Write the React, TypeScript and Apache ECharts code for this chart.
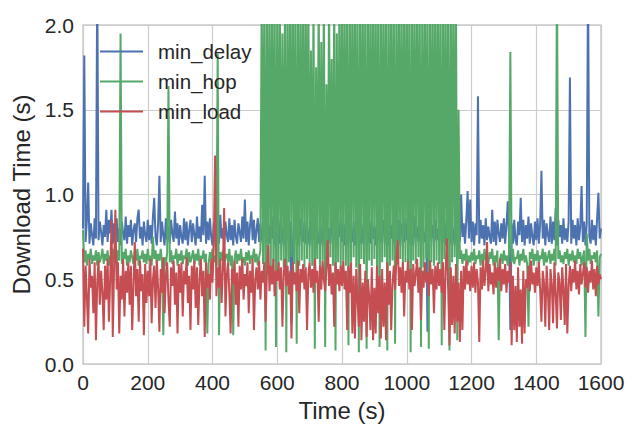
import React, { useEffect, useRef } from "react";
import * as echarts from "echarts";

// Time sampled every 4 s from 0 to 1600 (each row = 100 s)
const STEP = 4;

const minDelay = [
  .80, 1.82, .72, .85, 1.07, .71, .83, .76, .70, .86, .74, 2.30, .73, .84, .78, .70, .82, .75, .91, .72, .85, .77, .91, .71, .83,
  .74, .86, .72, .80, .70, .84, .77, .73, .87, .71, .82, .75, .85, .70, .79, .83, .72, .86, .91, .74, .81, .70, .84, .76, .72,
  .85, .73, .82, .71, .87, .98, .75, .70, .83, 1.11, .72, .84, .76, .70, .86, .73, .81, .71, .85, .77, .72, .90, .74, .83, .70,
  .82, .75, .71, .86, .73, .84, .70, .79, .85, .72, .83, .76, .70, .87, .74, .81, .72, .94, .76, 1.11, .71, .84, .73, .86, .75,
  .70, .83, .77, .72, .85, .71, .88, .74, .80, .70, .84, .76, .72, .86, .73, .82, .70, .85, .75, .71, .83, .78, .72, .87, .74,
  .97, .72, .84, .70, .82, .90, .73, .85, .71, .79, .86, .72, .83, .75, .70, .84, .77, .72, .85, .71, .82, .74, .87, .70, .80,
  .73, .85, .71, .83, .76, .70, .86, .72, .81, .74, .84, .24, .71, .85, .77, .72, .83, .70, .86, .75, .72, .84, .71, .82, .76,
  .70, .85, .73, .81, .72, .87, .75, .71, .84, .77, .70, .83, .74, .86, .72, .80, .71, .85, .76, .73, .84, .70, .82, .75, .86,
  .72, .83, .70, .85, .74, .71, .86, .77, .72, .84, .70, .82, .75, .87, .71, .83, .73, .70, .85, .76, .72, .84, .71, .86, .74,
  .81, .70, .84, .73, .88, .72, .79, .85, .71, .83, .75, .70, .86, .74, .82, .71, .84, .77, .72, .85, .70, .83, .76, .72, .86,
  .73, .84, .71, .82, .75, .70, .87, .74, .81, .72, .85, .70, .83, .76, .72, .84, .19, .71, .86, .74, .82, .70, .85, .73, .80,
  .71, .84, .76, .72, .86, .70, .83, .74, .85, .71, .82, .77, .70, .84, .73, .86, .72, 1.00, .75, .83, .71, .85, 1.02, .74, .97,
  .72, .84, .70, .83, .76, 1.58, .71, .85, .74, .82, .70, .86, .73, .81, .75, .71, .91, .72, .84, .70, .85, .77, .72, .83, .74,
  .86, .71, .82, .96, .74, .20, .83, .71, .85, .73, .70, .84, .76, .98, .72, .85, .70, .82, .74, .87, .71, .83, .75, .70, .84,
  .73, .86, .71, .82, 1.14, .74, .85, .70, .83, .76, .72, .87, .71, .84, .73, .92, .70, .85, .75, .82, .71, .86, .73, .80, .72,
  .84, 1.69, .71, .85, .74, .82, .70, .86, .73, .81, 1.05, .72, .84, .70, .83, 2.30, .75, .71, .85, .73, .82, .70, .86, 1.01, .74,
  .80,
];

const minHop = [
  .79, .60, .67, .58, .65, .62, .68, .59, .64, .61, .67, .58, .66, .60, .63, .68, .59, .65, .61, .67, .58, .64, .62, .68, .60,
  .65, .58, .67, .61, 1.95, .59, .66, .62, .68, .58, .64, .60, .67, .63, .59, .66, .61, .68, .58, .64, .62, .67, .60, .65, .59,
  .68, .61, .64, .58, .75, .62, .67, .59, .65, .61, .68, .60, .17, .63, .58, .66, 1.64, .60, .67, .59, .64, .62, .68, .58, .65,
  .61, .67, .59, .64, .62, .68, .58, .66, .60, .63, .67, .59, .65, .61, .68, .58, .64, .62, .67, .60, .65, .18, .59, .66, .62,
  .68, .60, .64, .58, 1.83, .17, .66, .61, .67, .59, .63, .65, .60, .68, .58, .64, .17, .62, .67, .59, .65, .61, .68, .60, .63,
  .58, .66, .61, .67, .59, .64, .62, .68, .60, .65, .58, .63, .67, 2.2, .59, 2.2, .08, 2.2, .62, 2.2, .57, 2.2, .60, 2.2, .10,
  2.2, .58, 2.2, .61, 1.95, .57, 2.2, .07, 2.2, .60, 2.2, .63, 2.2, .59, 2.2, .12, 2.2, .58, 2.2, .61, 2.2, .57, 2.2, .62, 2.2,
  .60, 1.85, .58, 2.2, .09, 1.75, .62, 2.2, .57, 1.9, .61, 2.2, .10, 1.65, .59, 2.2, .63, 1.8, .58, 2.2, .08, 1.95, .60, 2.2, .57,
  2.2, .61, 2.2, .58, 2.2, .11, 2.2, .60, 2.2, .63, 2.2, .57, 2.2, .07, 2.2, .62, 2.2, .59, 2.2, .09, 2.2, .61, 2.2, .58, 2.2,
  .62, 2.2, .57, 2.2, .10, 2.2, .60, 2.2, .63, 2.2, .08, 2.2, .58, 2.2, .61, 2.2, .12, 2.2, .59, 2.2, .62, 2.2, .57, 2.2, .60,
  2.2, .58, 2.2, .07, 2.2, .61, 2.2, .59, 2.2, .63, 2.2, .10, 2.2, .57, 2.2, .62, 2.2, .09, 2.2, .60, 2.2, .58, 2.2, .61, 2.2,
  .59, 2.2, .11, 2.2, .62, 2.2, .57, 2.2, .08, 2.2, .60, 2.2, .63, 2.2, .14, 1.50, .62, .67, .59, .65, .61, .68, .58, .64, .60,
  .66, .61, .68, .59, .64, .62, .67, .58, .65, .60, .68, .61, .63, .59, .66, .62, .68, .58, .64, .60, .67, .14, .62, .65, .59,
  .67, .61, .64, .58, .66, 1.84, .60, .68, .59, .63, .62, .67, .58, .65, .61, .68, .60, .64, .59, .22, .66, .62, .68, .58, .65,
  .61, .67, .59, .64, .62, .68, .58, .66, .60, .63, .67, .59, .65, .61, .68, .58, 2.30, .62, .67, .60, .64, .59, .66, .62, .68,
  .58, .65, .61, .67, .60, .64, .59, .68, .62, .66, .58, .63, .67, .16, .77, .61, .68, .59, .64, .62, .66, .60, .67, .28, .63,
  .65,
];

const minLoad = [
  .68, .22, .58, .40, .18, .62, .45, .52, .30, .60, .14, .48, .61, .35, .55, .42, .20, .58, .38, .62, .25, .50, .85, .16, .57,
  .91, .44, .60, .18, .52, .38, .62, .28, .55, .42, .60, .35, .58, .20, .47, .72, .40, .56, .25, .61, .43, .53, .17, .59, .36,
  .55, .40, .62, .24, .50, .58, .33, .61, .45, .19, .56, .42, .63, .30, .52, .60, .38, .22, .57, .46, .61, .35, .54, .18, .59,
  .42, .60, .28, .55, .47, .63, .36, .52, .20, .58, .44, .61, .33, .57, .23, .50, .62, .40, .55, .16, .60, .45, .53, .38, .62,
  .48, .70, 1.23, .40, .57, .45, .62, .36, .55, .92, .28, .52, .60, .42, .18, .56, .47, .61, .35, .54, .22, .58, .44, .62, .38,
  .53, .46, .60, .30, .55, .42, .62, .20, .50, .57, .44, .61, .38, .55, .48, .60, .25, .53, .70, .43, .58, .47, .62, .40, .55,
  .49, .60, .44, .57, .22, .53, .62, .46, .58, .41, .55, .15, .60, .47, .54, .43, .61, .30, .56, .48, .59, .44, .57, .20, .53,
  .60, .45, .56, .42, .62, .48, .55, .25, .58, .44, .61, .50, .43, .57, .73, .46, .59, .41, .54, .22, .60, .47, .56, .43, .58,
  .46, .61, .44, .55, .20, .58, .42, .60, .18, .52, .15, .56, .38, .22, .59, .14, .48, .25, .55, .16, .50, .40, .20, .57, .14,
  .45, .18, .58, .30, .52, .15, .56, .22, .48, .14, .60, .35, .55, .20, .47, .58, .44, .62, .73, .46, .57, .42, .60, .28, .55,
  .48, .61, .44, .56, .20, .59, .46, .53, .62, .42, .57, .26, .55, .45, .60, .48, .54, .40, .61, .47, .56, .30, .58, .44, .60,
  .46, .56, .42, .60, .20, .55, .74, .44, .11, .57, .23, .52, .18, .59, .25, .48, .13, .55, .20, .58, .44, .61, .47, .55, .43,
  .58, .45, .60, .42, .56, .48, .13, .57, .44, .61, .46, .55, .72, .43, .59, .47, .54, .41, .60, .45, .57, .49, .62, .43, .56,
  .47, .59, .42, .55, .48, .60, .11, .52, .20, .46, .13, .57, .22, .44, .12, .55, .18, .50, .45, .58, .43, .61, .47, .54, .42,
  .57, .46, .60, .44, .25, .55, .48, .22, .58, .43, .20, .56, .47, .24, .60, .42, .21, .54, .48, .26, .57, .44, .23, .59, .18,
  .46, .58, .43, .56, .48, .61, .44, .55, .41, .59, .47, .53, .60, .45, .57, .42, .55, .48, .61, .44, .56, .40, .58, .47, .53,
  .50,
];

const seriesNames = ["min_delay", "min_hop", "min_load"];
const seriesColors = ["#4C72B0", "#55A868", "#C44E52"];
const xTicks = [0, 200, 400, 600, 800, 1000, 1200, 1400, 1600];
const yTicks = [0.0, 0.5, 1.0, 1.5, 2.0];

const FONT = "Liberation Sans, Arial, sans-serif";
const TXT = "#262626";
const GRIDC = "#cccccc";

function toPairs(vals: number[]) {
  return vals.map((v, i) => [i * STEP, v]);
}

export default function App() {
  const ref = useRef<HTMLDivElement>(null);
  useEffect(() => {
    if (!ref.current) return;
    const chart = echarts.init(ref.current, null, { renderer: "svg" });
    const all = [minDelay, minHop, minLoad];
    chart.setOption({
      animation: false,
      backgroundColor: "#ffffff",
      textStyle: { fontFamily: FONT },
      grid: {
        left: 83,
        right: 39,
        top: 25,
        bottom: 76,
        show: true,
        borderColor: GRIDC,
        borderWidth: 1.5,
        backgroundColor: "#ffffff",
      },
      legend: {
        orient: "vertical",
        left: 100,
        top: 41,
        padding: 0,
        icon: "rect",
        itemWidth: 43,
        itemHeight: 2,
        itemGap: 9,
        data: seriesNames,
        textStyle: {
          fontFamily: FONT,
          fontSize: 20.5,
          color: TXT,
          lineHeight: 20.5,
          padding: [0, 0, 0, 10],
        },
      },
      xAxis: {
        type: "value",
        min: xTicks[0],
        max: xTicks[xTicks.length - 1],
        interval: xTicks[1] - xTicks[0],
        name: "Time (s)",
        nameLocation: "middle",
        nameGap: 34,
        nameTextStyle: { fontFamily: FONT, fontSize: 24, color: TXT },
        axisLine: { show: false },
        axisTick: { show: false },
        axisLabel: {
          fontFamily: FONT,
          fontSize: 21,
          color: TXT,
          margin: 8,
          formatter: (v: number) => String(v),
        },
        splitLine: { show: true, lineStyle: { color: GRIDC, width: 1.2 } },
      },
      yAxis: {
        type: "value",
        min: yTicks[0],
        max: yTicks[yTicks.length - 1],
        interval: yTicks[1] - yTicks[0],
        name: "Download Time (s)",
        nameLocation: "middle",
        nameGap: 48,
        nameTextStyle: { fontFamily: FONT, fontSize: 24, color: TXT },
        axisLine: { show: false },
        axisTick: { show: false },
        axisLabel: {
          fontFamily: FONT,
          fontSize: 21,
          color: TXT,
          margin: 9,
          formatter: (v: number) => v.toFixed(1),
        },
        splitLine: { show: true, lineStyle: { color: GRIDC, width: 1.2 } },
      },
      series: seriesNames.map((name, k) => ({
        name,
        type: "line",
        data: toPairs(all[k]),
        symbol: "none",
        showSymbol: false,
        clip: true,
        color: seriesColors[k],
        lineStyle: { color: seriesColors[k], width: 2.0 },
        emphasis: { disabled: true },
      })),
    });
    return () => chart.dispose();
  }, []);
  return (
    <div
      ref={ref}
      style={{ position: "absolute", left: 0, top: 0, width: 640, height: 440 }}
    />
  );
}
